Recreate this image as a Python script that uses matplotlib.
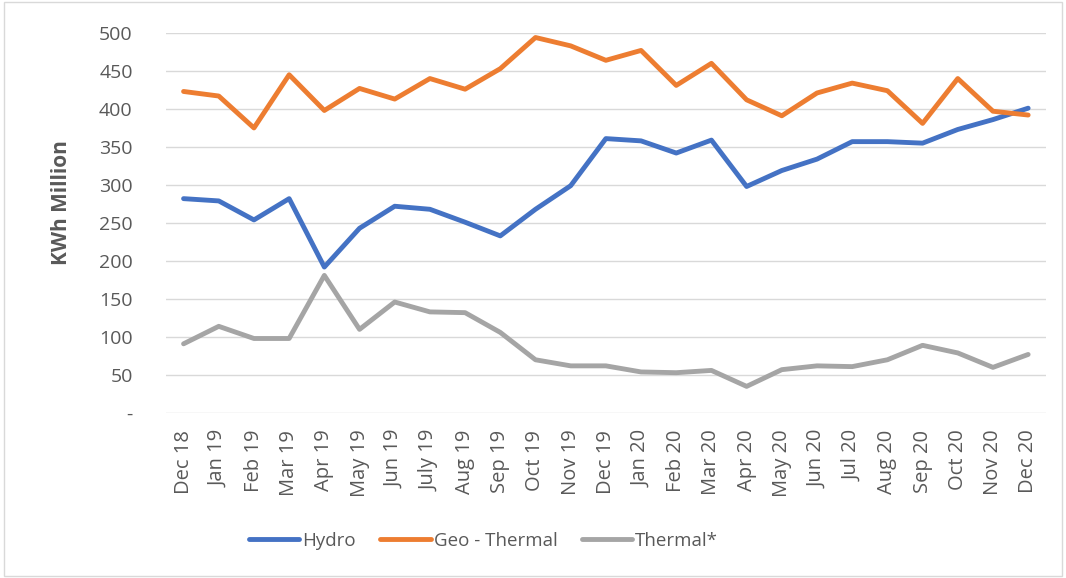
import matplotlib
matplotlib.use("Agg")
import matplotlib.pyplot as plt
from matplotlib.patches import Rectangle

categories = ["Dec 18", "Jan 19", "Feb 19", "Mar 19", "Apr 19", "May 19", "Jun 19", "July 19",
              "Aug 19", "Sep 19", "Oct 19", "Nov 19", "Dec 19", "Jan 20", "Feb 20", "Mar 20",
              "Apr 20", "May 20", "Jun 20", "Jul 20", "Aug 20", "Sep 20", "Oct 20", "Nov 20", "Dec 20"]
hydro = [282, 279, 254, 282, 192, 243, 272, 268, 251, 233, 268, 299, 361,
         358, 342, 359, 298, 319, 334, 357, 357, 355, 373, 386, 401]
geo_thermal = [423, 417, 375, 445, 398, 427, 413, 440, 426, 453, 494, 483, 464,
               477, 431, 460, 412, 391, 421, 434, 424, 381, 440, 397, 392]
thermal = [91, 114, 98, 98, 181, 110, 146, 133, 132, 106, 70, 62, 62,
           54, 53, 56, 35, 57, 62, 61, 70, 89, 79, 60, 77]
y_ticks = [0, 50, 100, 150, 200, 250, 300, 350, 400, 450, 500]
y_tick_labels = ["-", "50", "100", "150", "200", "250", "300", "350", "400", "450", "500"]

plt.rcParams['font.family'] = ['Open Sans', 'DejaVu Sans']
txt = "#595959"

fig = plt.figure(figsize=(10.66, 5.78), dpi=100)
ax = fig.add_axes([0.1557, 0.2855, 0.8253, 0.6575])
x = list(range(len(categories)))
kw = dict(lw=3.5, solid_capstyle="round", solid_joinstyle="round", zorder=3)
ax.plot(x, hydro, color="#4472C4", label="Hydro", **kw)
ax.plot(x, geo_thermal, color="#ED7D31", label="Geo - Thermal", **kw)
ax.plot(x, thermal, color="#A5A5A5", label="Thermal*", **kw)

ax.set_xlim(-0.5, len(categories) - 0.5)
ax.set_ylim(0, 500)
ax.set_yticks(y_ticks)
ax.set_yticklabels(y_tick_labels)
ax.set_xticks(x)
ax.set_xticklabels(categories, rotation=90)
ax.tick_params(axis="y", length=0, pad=24, labelsize=14, labelcolor=txt)
ax.tick_params(axis="x", length=0, pad=12, labelsize=14.5, labelcolor=txt)
ax.grid(axis="y", color="#D9D9D9", lw=1)
ax.set_axisbelow(True)
for s in ax.spines.values():
    s.set_visible(False)

fig.text(0.058, 0.65, "KWh Million", rotation=90, ha="center", va="center",
         fontsize=15, fontweight="bold", color=txt)

leg = fig.legend(loc="center", bbox_to_anchor=(0.4536, 0.064), ncol=3, frameon=False,
                 fontsize=13.5, handlelength=2.7, handletextpad=0.15, columnspacing=1.3)
for t in leg.get_texts():
    t.set_color(txt)

fig.patches.append(Rectangle((0.004, 0.004), 0.992, 0.992, transform=fig.transFigure,
                             fill=False, edgecolor="#D9D9D9", lw=1))
fig.savefig("out.png", dpi=100)
